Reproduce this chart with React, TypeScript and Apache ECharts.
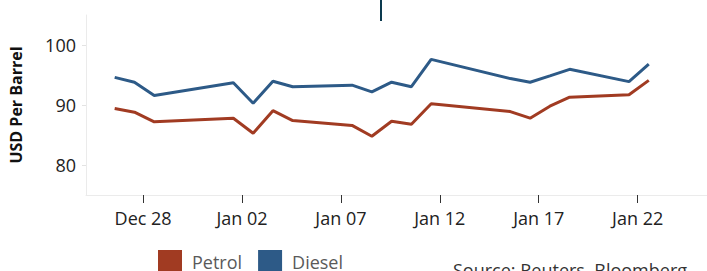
import React, { useEffect, useRef } from "react";
import * as echarts from "echarts";

// Observation times (UTC)
const dates = [
  "2022-12-26T13:30:00Z", "2022-12-27T13:30:00Z", "2022-12-28T13:30:00Z",
  "2023-01-01T13:30:00Z", "2023-01-02T13:30:00Z", "2023-01-03T13:30:00Z",
  "2023-01-04T13:30:00Z", "2023-01-07T13:30:00Z", "2023-01-08T13:30:00Z",
  "2023-01-09T13:30:00Z", "2023-01-10T13:30:00Z", "2023-01-11T13:30:00Z",
  "2023-01-15T13:30:00Z", "2023-01-16T13:30:00Z", "2023-01-17T13:30:00Z",
  "2023-01-18T13:30:00Z", "2023-01-21T13:30:00Z", "2023-01-22T13:30:00Z",
];
const petrol = [89.4, 88.8, 87.2, 87.8, 85.3, 89.05, 87.4, 86.6, 84.8, 87.3, 86.8, 90.2, 88.9, 87.8, 89.8, 91.3, 91.7, 94.1];
const diesel = [94.6, 93.8, 91.6, 93.7, 90.3, 93.95, 93.05, 93.3, 92.2, 93.8, 93.05, 97.6, 94.4, 93.8, 94.85, 95.95, 93.9, 96.8];

const xTickDates = ["2022-12-28", "2023-01-02", "2023-01-07", "2023-01-12", "2023-01-17", "2023-01-22"];
const yTicks = [80, 90, 100];
const seriesNames = ["Petrol", "Diesel"];
const colors = ["#a13b22", "#2d5a87"];

const DAY = 86400000;
const MONTHS = ["Jan", "Feb", "Mar", "Apr", "May", "Jun", "Jul", "Aug", "Sep", "Oct", "Nov", "Dec"];

export default function App() {
  const ref = useRef<HTMLDivElement>(null);
  useEffect(() => {
    if (!ref.current) return;
    const chart = echarts.init(ref.current, undefined, { renderer: "svg" });
    const tickTs = xTickDates.map((d) => Date.parse(d + "T00:00:00Z"));
    const xMin = tickTs[0] - 2.887 * DAY;
    const gridWidth = 660;
    const pxPerDay = 21.024;
    const xMax = xMin + (gridWidth / pxPerDay) * DAY;
    const font = "'Open Sans', sans-serif";
    const toData = (vals: number[]) => vals.map((v, i) => [Date.parse(dates[i]), v]);

    chart.setOption({
      animation: false,
      textStyle: { fontFamily: font },
      grid: { left: 86, top: 15, width: gridWidth, height: 180, containLabel: false },
      legend: {
        left: 158,
        top: 250,
        padding: 0,
        itemWidth: 24,
        itemHeight: 24,
        itemGap: 16,
        icon: "rect",
        data: seriesNames,
        textStyle: { fontFamily: font, fontSize: 18, color: "#5a5a5a", padding: [0, 0, 0, 5] },
      },
      xAxis: {
        type: "value",
        min: xMin,
        max: xMax,
        axisLine: { show: true, lineStyle: { color: "#ebebeb", width: 1 } },
        axisTick: { show: true, customValues: tickTs, length: 8, lineStyle: { color: "#333", width: 1 } },
        axisLabel: {
          customValues: tickTs,
          margin: 14,
          fontSize: 18,
          color: "#222",
          fontFamily: font,
          formatter: (v: number) => {
            const d = new Date(v);
            const dd = String(d.getUTCDate()).padStart(2, "0");
            return MONTHS[d.getUTCMonth()] + " " + dd;
          },
        },
        splitLine: { show: false },
      },
      yAxis: {
        type: "value",
        min: 75,
        max: 105,
        interval: 5,
        name: "USD Per Barrel",
        nameLocation: "middle",
        nameGap: 62,
        nameRotate: 90,
        nameTextStyle: { fontFamily: font, fontSize: 16, fontWeight: "bold", color: "#111" },
        axisLine: { show: true, lineStyle: { color: "#ebebeb", width: 1 } },
        axisTick: { show: true, customValues: yTicks, length: 4, lineStyle: { color: "#e3e3e3" } },
        axisLabel: { customValues: yTicks, margin: 10, fontSize: 18, color: "#222", fontFamily: font },
        splitLine: { show: false },
      },
      series: [
        {
          name: seriesNames[0],
          type: "line",
          data: toData(petrol),
          showSymbol: false,
          symbol: "none",
          lineStyle: { color: colors[0], width: 3 },
          itemStyle: { color: colors[0] },
        },
        {
          name: seriesNames[1],
          type: "line",
          data: toData(diesel),
          showSymbol: false,
          symbol: "none",
          lineStyle: { color: colors[1], width: 3 },
          itemStyle: { color: colors[1] },
        },
      ],
      graphic: [
        {
          type: "line",
          shape: { x1: 381, y1: 0, x2: 381, y2: 21 },
          style: { stroke: "#0c3a4f", lineWidth: 2 },
        },
        {
          type: "text",
          left: 453,
          top: 261,
          style: { text: "Source: Reuters, Bloomberg", font: "18px 'Open Sans', sans-serif", fill: "#333" },
        },
      ],
    });
    return () => chart.dispose();
  }, []);
  return (
    <div
      ref={ref}
      style={{ position: "fixed", left: 0, top: 0, width: 707, height: 271, background: "#fff" }}
    />
  );
}
